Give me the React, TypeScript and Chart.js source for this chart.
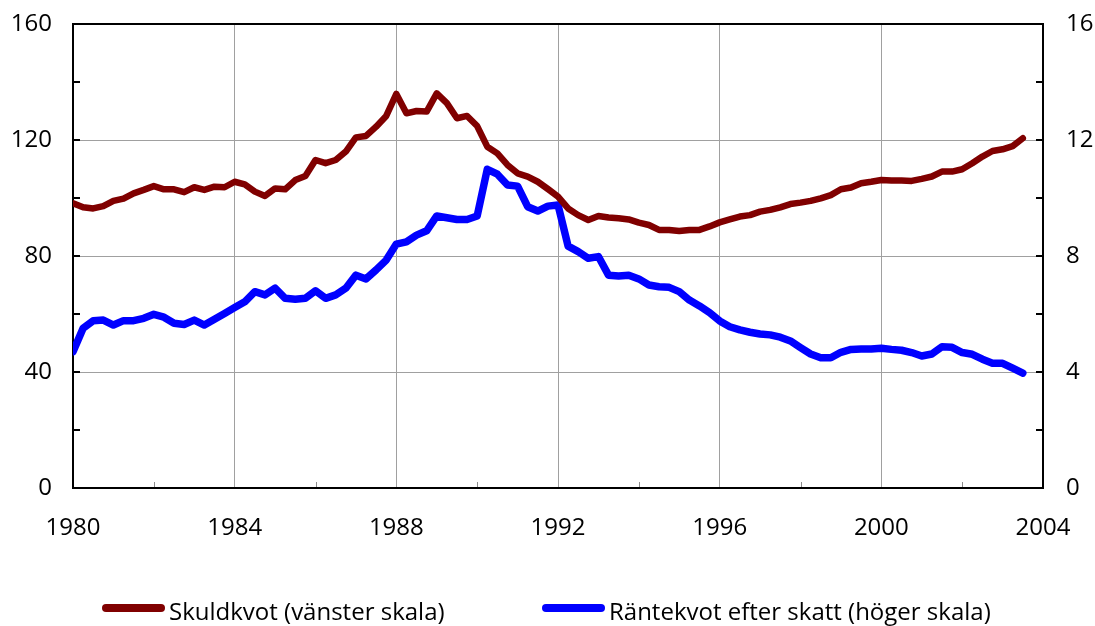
import React, { useEffect, useRef } from 'react';
import { Chart, registerables } from 'chart.js';

Chart.register(...registerables);

// Quarterly observations, 1980 Q1 .. 2003 Q3
const startYear = 1980;
const quartersPerYear = 4;

const seriesNames = ['Skuldkvot (vänster skala)', 'Räntekvot efter skatt (höger skala)'];

const skuldkvot = [
  98.2, 96.8, 96.4, 97.2,
  99.0, 99.8, 101.6, 102.8,
  104.1, 103.0, 103.0, 102.0,
  103.7, 102.8, 103.9, 103.7,
  105.6, 104.7, 102.2, 100.7,
  103.3, 103.0, 106.2, 107.6,
  113.1, 112.0, 113.1, 116.0,
  120.9, 121.4, 124.6, 128.3,
  135.9, 129.2, 130.0, 129.8,
  136.1, 132.7, 127.5, 128.3,
  124.8, 117.7, 115.4, 111.4,
  108.5, 107.4, 105.6, 103.1,
  100.5, 96.4, 94.1, 92.4,
  93.8, 93.3, 93.0, 92.6,
  91.5, 90.7, 89.0, 89.0,
  88.6, 89.0, 89.0, 90.2,
  91.6, 92.6, 93.6, 94.1,
  95.3, 95.9, 96.8, 97.9,
  98.4, 99.0, 99.9, 101.0,
  103.0, 103.6, 105.1, 105.6,
  106.2, 106.0, 106.0, 105.9,
  106.6, 107.4, 109.1, 109.1,
  109.9, 112.0, 114.3, 116.2,
  116.8, 117.9, 120.6,
];

const rantekvot = [
  4.70, 5.51, 5.77, 5.79,
  5.62, 5.77, 5.77, 5.85,
  5.99, 5.89, 5.68, 5.64,
  5.79, 5.62, 5.82, 6.02,
  6.22, 6.42, 6.77, 6.66,
  6.89, 6.54, 6.51, 6.54,
  6.80, 6.54, 6.66, 6.89,
  7.34, 7.21, 7.52, 7.86,
  8.41, 8.49, 8.72, 8.87,
  9.38, 9.32, 9.26, 9.26,
  9.38, 10.99, 10.82, 10.45,
  10.41, 9.70, 9.55, 9.72,
  9.76, 8.34, 8.15, 7.92,
  7.98, 7.34, 7.31, 7.34,
  7.21, 7.00, 6.94, 6.92,
  6.77, 6.48, 6.28, 6.05,
  5.76, 5.56, 5.45, 5.37,
  5.31, 5.28, 5.20, 5.07,
  4.84, 4.62, 4.49, 4.49,
  4.68, 4.78, 4.79, 4.79,
  4.82, 4.78, 4.75, 4.67,
  4.55, 4.62, 4.87, 4.85,
  4.67, 4.61, 4.44, 4.30,
  4.30, 4.13, 3.96,
];

const xTickYears = [1980, 1984, 1988, 1992, 1996, 2000, 2004];
const xMinorYears = [1982, 1986, 1990, 1994, 1998, 2002];
const leftTicks = [0, 40, 80, 120, 160];
const leftMinorTicks = [0, 20, 40, 60, 80, 100, 120, 140, 160];
const rightTicks = [0, 4, 8, 12, 16];
const rightMinorTicks = [0, 2, 4, 6, 8, 10, 12, 14, 16];

const colors = ['#800000', '#0000ff'];

const FONT = '"Open Sans", "Noto Sans", sans-serif';

const framePlugin = {
  id: 'frameAndInnerTicks',
  beforeDatasetsDraw(chart: any) {
    const { ctx, chartArea, scales } = chart;
    const { left, right, top, bottom } = chartArea;
    ctx.save();
    ctx.strokeStyle = '#8c8c8c';
    ctx.lineWidth = 1;
    ctx.beginPath();
    for (const yr of xMinorYears) {
      const x = Math.round(scales.x.getPixelForValue(yr)) + 0.5;
      ctx.moveTo(x, bottom);
      ctx.lineTo(x, bottom - 6);
    }
    ctx.stroke();
    ctx.strokeStyle = '#000';
    ctx.lineWidth = 2;
    ctx.beginPath();
    for (const v of leftMinorTicks) {
      const y = Math.round(scales.y.getPixelForValue(v));
      ctx.moveTo(left, y);
      ctx.lineTo(left + 7, y);
    }
    for (const v of rightMinorTicks) {
      const y = Math.round(scales.y1.getPixelForValue(v));
      ctx.moveTo(right - 7, y);
      ctx.lineTo(right, y);
    }
    ctx.stroke();
    ctx.strokeRect(left, top, right - left, bottom - top);
    ctx.restore();
  },
};

export default function App() {
  const ref = useRef<HTMLCanvasElement | null>(null);

  useEffect(() => {
    document.body.style.margin = '0';
    document.body.style.overflow = 'hidden';
    const canvas = ref.current;
    if (!canvas) return;
    const quarters = skuldkvot.map((_, i) => startYear + i / quartersPerYear);
    const tickFont = { family: FONT, size: 24 };
    const chart = new Chart(canvas, {
      type: 'line',
      data: {
        datasets: [
          {
            label: seriesNames[0],
            data: quarters.map((x, i) => ({ x, y: skuldkvot[i] })),
            borderColor: colors[0],
            backgroundColor: colors[0],
            borderWidth: 6.5,
            pointRadius: 0,
            tension: 0,
            borderCapStyle: 'round',
            borderJoinStyle: 'round',
            yAxisID: 'y',
          },
          {
            label: seriesNames[1],
            data: quarters.map((x, i) => ({ x, y: rantekvot[i] })),
            borderColor: colors[1],
            backgroundColor: colors[1],
            borderWidth: 7.5,
            pointRadius: 0,
            tension: 0,
            borderCapStyle: 'round',
            borderJoinStyle: 'round',
            yAxisID: 'y1',
          },
        ],
      },
      options: {
        responsive: false,
        animation: false,
        layout: { padding: { top: 24, left: 0, right: 0, bottom: 0 } },
        plugins: {
          legend: { display: false },
          tooltip: { enabled: false },
        },
        scales: {
          x: {
            type: 'linear',
            min: 1980,
            max: 2004,
            afterBuildTicks: (s: any) => {
              s.ticks = xTickYears.map((v) => ({ value: v }));
            },
            afterFit: (s: any) => {
              s.height = 138;
              s.paddingLeft = 0;
              s.paddingRight = 0;
            },
            grid: { color: '#a0a0a0', lineWidth: 1, drawTicks: false },
            border: { display: false },
            ticks: {
              padding: 26,
              color: '#000',
              font: tickFont,
              maxRotation: 0,
              autoSkip: false,
              callback: (v: any) => String(v),
            },
          },
          y: {
            position: 'left',
            min: 0,
            max: 160,
            afterBuildTicks: (s: any) => {
              s.ticks = leftTicks.map((v) => ({ value: v }));
            },
            afterFit: (s: any) => {
              s.width = 73;
              s.paddingTop = 0;
              s.paddingBottom = 0;
            },
            grid: { color: '#a0a0a0', lineWidth: 1, drawTicks: false },
            border: { display: false },
            ticks: { padding: 21, color: '#000', font: tickFont, callback: (v: any) => String(v) },
          },
          y1: {
            position: 'right',
            min: 0,
            max: 16,
            afterBuildTicks: (s: any) => {
              s.ticks = rightTicks.map((v) => ({ value: v }));
            },
            afterFit: (s: any) => {
              s.width = 52;
              s.paddingTop = 0;
              s.paddingBottom = 0;
            },
            grid: { drawOnChartArea: false, drawTicks: false },
            border: { display: false },
            ticks: { padding: 23, color: '#000', font: tickFont, callback: (v: any) => String(v) },
          },
        },
      },
      plugins: [framePlugin],
    } as any);
    return () => chart.destroy();
  }, []);

  const legendLefts = [102, 542];

  return (
    <div style={{ position: 'relative', width: 1095, height: 626, fontFamily: FONT }}>
      <canvas ref={ref} width={1095} height={626} style={{ display: 'block' }} />
      {seriesNames.map((name, i) => (
        <div
          key={name}
          style={{
            position: 'absolute',
            left: legendLefts[i],
            top: 599,
            display: 'flex',
            alignItems: 'flex-start',
            whiteSpace: 'nowrap',
          }}
        >
          <div
            style={{
              width: 63,
              height: 8,
              marginTop: 5,
              borderRadius: 4,
              background: colors[i],
            }}
          />
          <span style={{ marginLeft: 4, fontSize: 24, lineHeight: '24px', color: '#000' }}>{name}</span>
        </div>
      ))}
    </div>
  );
}
